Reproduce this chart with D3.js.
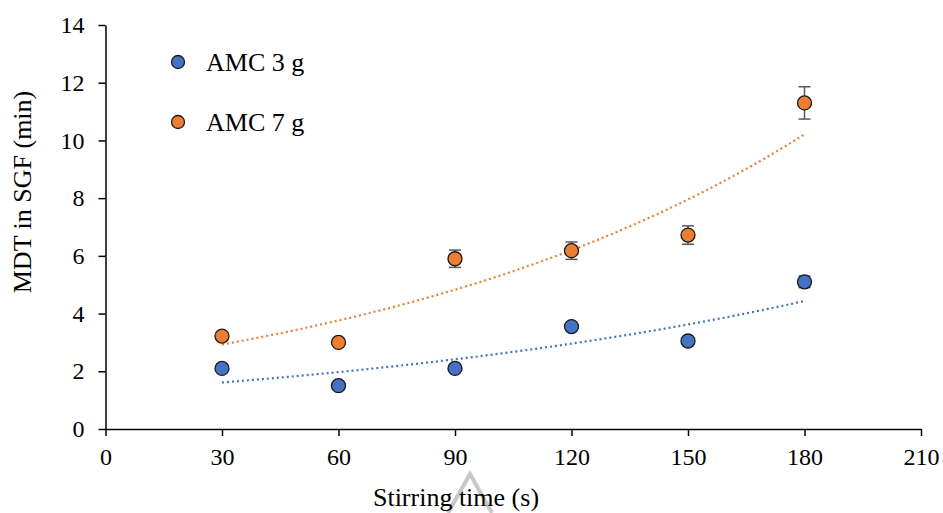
<!DOCTYPE html>
<html>
<head>
<meta charset="UTF-8">
<title>MDT in SGF</title>
<script src="https://cdn.jsdelivr.net/npm/d3@7/dist/d3.min.js"></script>
<style>
  body { margin: 0; background: #fff; }
  svg { display: block; font-family: "Liberation Serif", "Times New Roman", serif; }
  svg text { font-family: "Liberation Serif", "Times New Roman", serif; }
</style>
</head>
<body>
<script>
var stirTime = [30, 60, 90, 120, 150, 180];
var amc3 = [2.1, 1.5, 2.1, 3.55, 3.05, 5.1];
var amc3Err = [0.1, 0.08, 0.1, 0.1, 0.08, 0.2];
var amc7 = [3.22, 3.0, 5.9, 6.18, 6.72, 11.3];
var amc7Err = [0.12, 0.1, 0.3, 0.3, 0.32, 0.56];
var xTicks = [0, 30, 60, 90, 120, 150, 180, 210];
var yTicks = [0, 2, 4, 6, 8, 10, 12, 14];

var series = [
  {name: "AMC 3 g", values: amc3, err: amc3Err, color: "#4472C4"},
  {name: "AMC 7 g", values: amc7, err: amc7Err, color: "#ED7D31"}
];

var w = 943, h = 513;
var x = d3.scaleLinear().domain([0, 210]).range([105.5, 921]);
var y = d3.scaleLinear().domain([0, 14]).range([429, 25]);

var svg = d3.select("body").append("svg").attr("width", w).attr("height", h);

// exponential trendline (least squares on ln y, like Excel)
function expFit(xs, ys) {
  var n = xs.length;
  var ly = ys.map(function(v) { return Math.log(v); });
  var mx = d3.mean(xs), my = d3.mean(ly);
  var sxy = 0, sxx = 0;
  for (var i = 0; i < n; i++) {
    sxy += (xs[i] - mx) * (ly[i] - my);
    sxx += (xs[i] - mx) * (xs[i] - mx);
  }
  var b = sxy / sxx;
  var a = Math.exp(my - b * mx);
  return function(t) { return a * Math.exp(b * t); };
}

// axes
var xAxis = d3.axisBottom(x).tickValues(xTicks).tickSizeInner(7).tickSizeOuter(0).tickPadding(12);
var yAxis = d3.axisLeft(y).tickValues(yTicks).tickSizeInner(7).tickSizeOuter(0).tickPadding(14);

var gx = svg.append("g").attr("transform", "translate(0," + y(0) + ")").call(xAxis);
var gy = svg.append("g").attr("transform", "translate(" + x(0) + ",0)").call(yAxis);
[gx, gy].forEach(function(g) {
  g.attr("font-family", null).attr("font-size", null);
  g.select(".domain").attr("stroke", "#000").attr("stroke-width", 1.5);
  g.selectAll(".tick line").attr("stroke", "#000").attr("stroke-width", 1.5);
  g.selectAll(".tick text").attr("fill", "#000")
    .style("font-size", "24px")
    .style("font-family", "'Liberation Serif', 'Times New Roman', serif");
});

// trendlines
series.forEach(function(s) {
  var f = expFit(stirTime, s.values);
  var pts = d3.range(30, 180.5, 2).map(function(t) { return [t, f(t)]; });
  svg.append("path")
    .datum(pts)
    .attr("fill", "none")
    .attr("stroke", s.color)
    .attr("stroke-width", 2.2)
    .attr("stroke-dasharray", "2,3")
    .attr("d", d3.line().x(function(d) { return x(d[0]); }).y(function(d) { return y(d[1]); }));
});

// error bars and markers
series.forEach(function(s) {
  var g = svg.append("g");
  var eb = g.selectAll("g.eb").data(stirTime).enter().append("g").attr("class", "eb");
  eb.append("line")
    .attr("x1", function(d) { return x(d); }).attr("x2", function(d) { return x(d); })
    .attr("y1", function(d, i) { return y(s.values[i] + s.err[i]); })
    .attr("y2", function(d, i) { return y(s.values[i] - s.err[i]); })
    .attr("stroke", "#595959").attr("stroke-width", 1.5);
  [1, -1].forEach(function(sign) {
    eb.append("line")
      .attr("x1", function(d) { return x(d) - 6; }).attr("x2", function(d) { return x(d) + 6; })
      .attr("y1", function(d, i) { return y(s.values[i] + sign * s.err[i]); })
      .attr("y2", function(d, i) { return y(s.values[i] + sign * s.err[i]); })
      .attr("stroke", "#595959").attr("stroke-width", 1.5);
  });
  g.selectAll("circle").data(stirTime).enter().append("circle")
    .attr("cx", function(d) { return x(d); })
    .attr("cy", function(d, i) { return y(s.values[i]); })
    .attr("r", 7)
    .attr("fill", s.color)
    .attr("stroke", "#1a1a1a")
    .attr("stroke-width", 1.3);
});

// legend
var legend = svg.append("g").selectAll("g").data(series).enter().append("g")
  .attr("transform", function(d, i) { return "translate(178," + (62 + i * 60) + ")"; });
legend.append("circle").attr("r", 6.5)
  .attr("fill", function(d) { return d.color; })
  .attr("stroke", "#1a1a1a").attr("stroke-width", 1.3);
legend.append("text").attr("x", 28).attr("y", 9)
  .attr("font-size", "26px").attr("fill", "#000")
  .text(function(d) { return d.name; });

// axis titles
svg.append("text")
  .attr("transform", "translate(31,192) rotate(-90)")
  .attr("text-anchor", "middle").attr("font-size", "26px").attr("fill", "#000")
  .text("MDT in SGF (min)");

// faint chevron mark behind x title
svg.append("path")
  .attr("d", "M448,513 L470,474 L492,513")
  .attr("fill", "none").attr("stroke", "#c8c8c8").attr("stroke-width", 4);

svg.append("text")
  .attr("x", 456).attr("y", 506)
  .attr("text-anchor", "middle").attr("font-size", "26px").attr("fill", "#000")
  .text("Stirring time (s)");
</script>
</body>
</html>
